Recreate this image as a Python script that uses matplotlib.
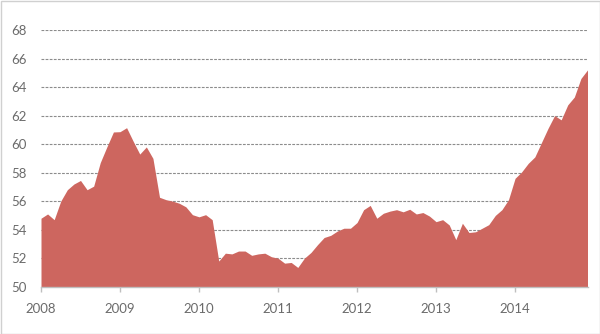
import matplotlib
matplotlib.use("Agg")
import matplotlib.pyplot as plt
import numpy as np
from matplotlib.patches import Rectangle

# Monthly values, Jan 2008 .. Dec 2014
values_2008 = [54.8, 55.1, 54.7, 56.0, 56.8, 57.2, 57.45, 56.8, 57.05, 58.7, 59.8, 60.85]
values_2009 = [60.87, 61.15, 60.2, 59.3, 59.8, 59.0, 56.27, 56.1, 56.0, 55.85, 55.6, 55.05]
values_2010 = [54.9, 55.05, 54.7, 51.8, 52.35, 52.3, 52.5, 52.5, 52.2, 52.3, 52.35, 52.1]
values_2011 = [52.0, 51.65, 51.7, 51.35, 52.0, 52.4, 52.95, 53.45, 53.6, 53.9, 54.1, 54.1]
values_2012 = [54.5, 55.4, 55.7, 54.8, 55.15, 55.3, 55.4, 55.25, 55.43, 55.1, 55.2, 54.95]
values_2013 = [54.56, 54.7, 54.33, 53.3, 54.45, 53.8, 53.85, 54.1, 54.35, 55.0, 55.4, 56.1]
values_2014 = [57.6, 58.05, 58.65, 59.1, 60.1, 61.1, 62.0, 61.7, 62.75, 63.3, 64.6, 65.2]

values = (values_2008 + values_2009 + values_2010 + values_2011 +
          values_2012 + values_2013 + values_2014)
start_year = 2008
dates = start_year + np.arange(len(values)) / 12.0

year_ticks = [2008, 2009, 2010, 2011, 2012, 2013, 2014]
y_ticks = [50, 52, 54, 56, 58, 60, 62, 64, 66, 68]

fill_color = "#CD665F"
label_color = "#6B6B6B"

plt.rcParams['font.family'] = ['Lato', 'DejaVu Sans']

fig = plt.figure(figsize=(6.0, 3.34), dpi=100)
ax = fig.add_axes([41/600, 47.3/334, (587.5-41)/600, (286.7-30)/334])

ax.fill_between(dates, 50, values, color=fill_color, linewidth=0, zorder=1)

ax.set_xlim(dates[0], dates[-1])
ax.set_ylim(50, 68)
ax.set_yticks(y_ticks)
ax.set_xticks(year_ticks)
ax.set_xticklabels([str(y) for y in year_ticks])

for yv in y_ticks[1:]:
    ax.axhline(yv, color="#8C8C8C", linewidth=0.8, linestyle=(0, (2.5, 1.2)), zorder=0)

for s in ["left", "right", "top"]:
    ax.spines[s].set_visible(False)
ax.spines["bottom"].set_color("#BFBFBF")
ax.spines["bottom"].set_linewidth(1.0)
ax.spines["bottom"].set_zorder(3)

ax.tick_params(axis="y", length=0, pad=10, labelsize=9.5, labelcolor=label_color)
ax.tick_params(axis="x", length=3.5, width=1.0, color="#BFBFBF", direction="out",
               pad=8, labelsize=9.5, labelcolor=label_color)

fig.patches.append(Rectangle((0.5/600, 0.5/334), 599/600, 333/334, transform=fig.transFigure,
                             fill=False, edgecolor="#D0D0D0", linewidth=1.0))

fig.savefig("out.png", dpi=100)
